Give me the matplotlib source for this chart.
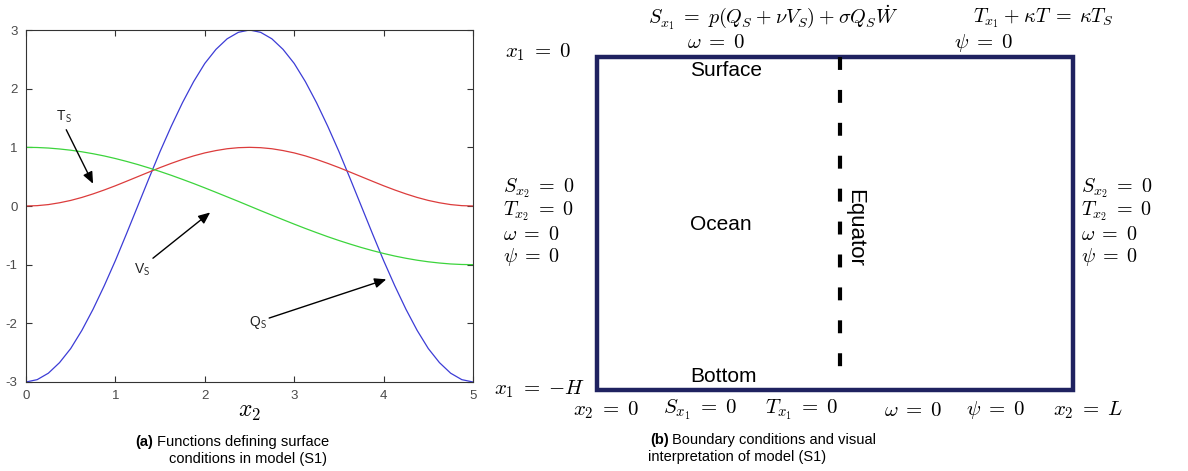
import matplotlib
matplotlib.use("Agg")
import matplotlib.pyplot as plt
from matplotlib.patches import Rectangle

plt.rcParams['mathtext.fontset'] = 'cm'
plt.rcParams['font.family'] = ['Liberation Sans', 'DejaVu Sans']
plt.rcParams['axes.unicode_minus'] = False

x2 = [0.0, 0.125, 0.25, 0.375, 0.5, 0.625, 0.75, 0.875, 1.0, 1.125,
      1.25, 1.375, 1.5, 1.625, 1.75, 1.875, 2.0, 2.125, 2.25, 2.375,
      2.5, 2.625, 2.75, 2.875, 3.0, 3.125, 3.25, 3.375, 3.5, 3.625,
      3.75, 3.875, 4.0, 4.125, 4.25, 4.375, 4.5, 4.625, 4.75, 4.875, 5.0]
q_s = [-3.00, -2.96, -2.85, -2.67, -2.43, -2.12, -1.76, -1.36, -0.93, -0.47,
       0.00, 0.47, 0.93, 1.36, 1.76, 2.12, 2.43, 2.67, 2.85, 2.96,
       3.00, 2.96, 2.85, 2.67, 2.43, 2.12, 1.76, 1.36, 0.93, 0.47,
       0.00, -0.47, -0.93, -1.36, -1.76, -2.12, -2.43, -2.67, -2.85, -2.96, -3.00]
t_s = [0.000, 0.006, 0.024, 0.055, 0.095, 0.146, 0.206, 0.273, 0.345, 0.422,
       0.500, 0.578, 0.655, 0.727, 0.794, 0.854, 0.905, 0.945, 0.976, 0.994,
       1.000, 0.994, 0.976, 0.945, 0.905, 0.854, 0.794, 0.727, 0.655, 0.578,
       0.500, 0.422, 0.345, 0.273, 0.206, 0.146, 0.095, 0.055, 0.024, 0.006, 0.000]
v_s = [1.000, 0.997, 0.988, 0.972, 0.951, 0.924, 0.891, 0.853, 0.809, 0.760,
       0.707, 0.649, 0.588, 0.523, 0.454, 0.383, 0.309, 0.233, 0.156, 0.079,
       0.000, -0.079, -0.156, -0.233, -0.309, -0.383, -0.454, -0.523, -0.588, -0.649,
       -0.707, -0.760, -0.809, -0.853, -0.891, -0.924, -0.951, -0.972, -0.988, -0.997, -1.000]

x_ticks = [0, 1, 2, 3, 4, 5]
y_ticks = [-3, -2, -1, 0, 1, 2, 3]

# annotation labels: (text, label position, arrow tail, arrow tip)
notes = [
    ('T$_{\\mathsf{S}}$', (0.43, 1.52), (0.45, 1.30), (0.75, 0.38)),
    ('V$_{\\mathsf{S}}$', (1.30, -1.09), (1.42, -0.89), (2.06, -0.11)),
    ('Q$_{\\mathsf{S}}$', (2.60, -1.99), (2.72, -1.91), (4.03, -1.25)),
]

fig = plt.figure(figsize=(11.88, 4.71), dpi=100)

# ---- panel (a)
ax = fig.add_axes([26 / 1188, 1 - 382 / 471, 447 / 1188, 352 / 471])
ax.plot(x2, q_s, color='#3c3cd6', lw=0.9)
ax.plot(x2, t_s, color='#dc3c3c', lw=0.9)
ax.plot(x2, v_s, color='#3cd43c', lw=0.9)
ax.set_xlim(0, 5)
ax.set_ylim(-3, 3)
ax.set_xticks(x_ticks)
ax.set_yticks(y_ticks)
ax.tick_params(direction='in', top=True, right=True, labelsize=9.5,
               labelcolor='#4a4a4a', color='#333333', length=4, pad=6)
for s in ax.spines.values():
    s.set_color('#333333')
    s.set_linewidth(0.8)
ax.set_xlabel('$x_2$', fontsize=17, labelpad=-1)
for txt, pos, tail, tip in notes:
    ax.annotate('', xy=tip, xytext=tail,
                arrowprops=dict(arrowstyle='-|>,head_length=0.7,head_width=0.3',
                                color='black', lw=1.0, shrinkA=0, shrinkB=0))
    ax.text(pos[0], pos[1], txt, fontsize=10, color='#222222',
            ha='center', va='center')

# ---- panel (b), drawn in pixel coordinates of the whole figure
ov = fig.add_axes([0, 0, 1, 1])
ov.set_xlim(0, 1188)
ov.set_ylim(471, 0)
ov.axis('off')
ov.add_patch(Rectangle((597, 57), 476, 333, fill=False,
                       edgecolor='#1f2260', lw=3.2))
ov.plot([840, 840], [57, 376], color='black', lw=3.0, dashes=(3.1, 4.8))

fs = 15
eq = r'\;=\;'
pl = r'\:+\:'
ov.text(773, 18, r'$S_{x_1}' + eq + r'p(Q_S' + pl + r'\nu V_S)' + pl
        + r'\sigma Q_S\dot{W}$', fontsize=14.5, ha='center', va='center')
ov.text(1043, 18, r'$T_{x_1}' + pl + r'\kappa T' + eq + r'\kappa T_S$',
        fontsize=14.5, ha='center', va='center')
ov.text(716, 43, r'$\omega' + eq + '0$', fontsize=fs, ha='center', va='center')
ov.text(983, 43, r'$\psi' + eq + '0$', fontsize=fs, ha='center', va='center')
ov.text(538, 52, r'$x_1' + eq + '0$', fontsize=fs, ha='center', va='center')
ov.text(494, 389, r'$x_1' + eq + '{-H}$', fontsize=fs, ha='left', va='center')

side = [r'$S_{x_2}' + eq + '0$', r'$T_{x_2}' + eq + '0$',
        r'$\omega' + eq + '0$', r'$\psi' + eq + '0$']
for i, s in enumerate(side):
    ov.text(503, 188 + 23 * i, s, fontsize=14.5, ha='left', va='center')
    ov.text(1081, 188 + 23 * i, s, fontsize=14.5, ha='left', va='center')

bottom = [(606, r'$x_2' + eq + '0$'), (700, r'$S_{x_1}' + eq + '0$'),
          (802, r'$T_{x_1}' + eq + '0$'), (913, r'$\omega' + eq + '0$'),
          (995, r'$\psi' + eq + '0$'), (1088, r'$x_2' + eq + 'L$')]
for bx, s in bottom:
    ov.text(bx, 410, s, fontsize=fs, ha='center', va='center')

ov.text(726, 71, 'Surface', fontsize=15, ha='center', va='center')
ov.text(721, 225, 'Ocean', fontsize=15, ha='center', va='center')
ov.text(723, 377, 'Bottom', fontsize=15, ha='center', va='center')
ov.text(855, 228, 'Equator', fontsize=16, ha='center', va='center',
        rotation=-90)

# captions
ov.text(135, 442, '(a)', fontsize=10.5, fontweight='bold', ha='left', va='center')
ov.text(157, 442, 'Functions defining surface', fontsize=10.5, ha='left', va='center')
ov.text(248, 459, 'conditions in model (S1)', fontsize=10.5, ha='center', va='center')
ov.text(650, 440, '(b)', fontsize=10.5, fontweight='bold', ha='left', va='center')
ov.text(672, 440, 'Boundary conditions and visual', fontsize=10.5, ha='left', va='center')
ov.text(737, 457, 'interpretation of model (S1)', fontsize=10.5, ha='center', va='center')

fig.savefig('out.png', dpi=100)
